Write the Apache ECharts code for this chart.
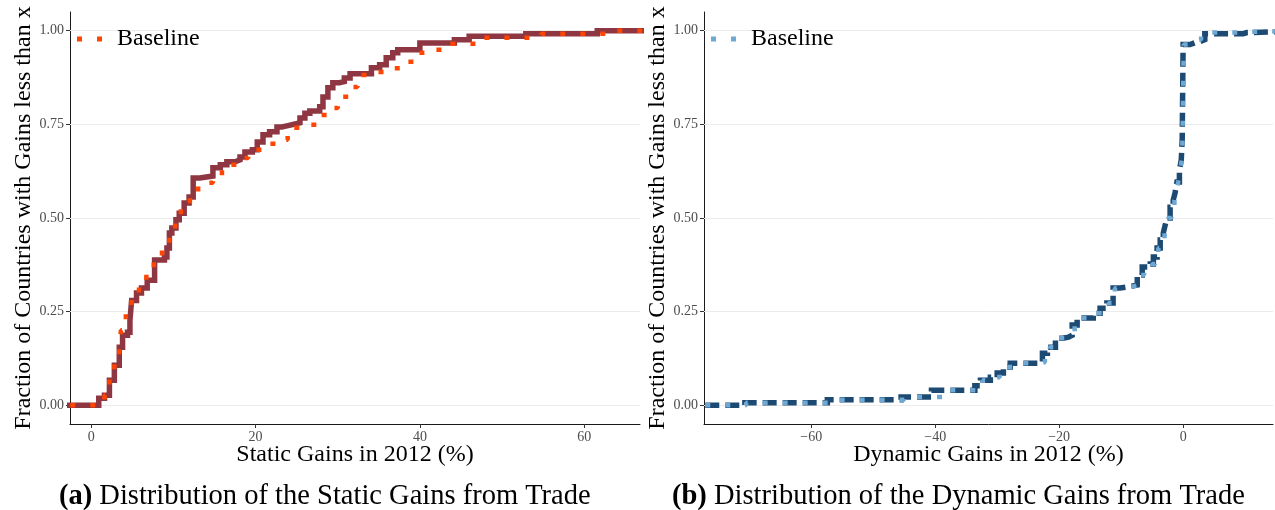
<!DOCTYPE html>
<html>
<head>
<meta charset="utf-8">
<script src="https://cdn.jsdelivr.net/npm/echarts@6/dist/echarts.min.js"></script>
<style>
html,body{margin:0;padding:0;background:#fff;}
#chart{width:1275px;height:510px;}
</style>
</head>
<body>
<div id="chart"></div>
<script>
// ---------- Data ----------
// Panel (a): static gains ECDF, main (solid) curve: step points (x = gain %, y = fraction)
const staticX = [-5, 0.9, 1.6, 2.2, 2.8, 3.4, 3.8, 4.4, 4.7, 4.9, 5.5, 6.1, 6.8, 7.7, 8.9, 9.2, 9.5, 9.8, 10.3, 10.7, 11.3, 11.9, 12.4, 13.2, 14.8, 15.7, 16.5, 17.5, 18.1, 18.7, 19.6, 20.2, 20.9, 21.7, 22.6, 23.2, 23.8, 24.8, 25.4, 26.0, 26.6, 27.8, 28.2, 28.8, 29.4, 30.2, 30.8, 31.5, 34.1, 35.1, 35.9, 36.7, 37.3, 40.0, 44.2, 46.0, 52.9, 61.6, 70];
const staticY = [0, 0.019, 0.027, 0.067, 0.107, 0.155, 0.187, 0.195, 0.227, 0.28, 0.30, 0.313, 0.334, 0.388, 0.396, 0.42, 0.46, 0.473, 0.495, 0.513, 0.54, 0.556, 0.607, 0.612, 0.634, 0.642, 0.65, 0.655, 0.663, 0.676, 0.682, 0.703, 0.722, 0.73, 0.743, 0.746, 0.751, 0.754, 0.767, 0.78, 0.786, 0.797, 0.823, 0.848, 0.861, 0.864, 0.874, 0.885, 0.901, 0.909, 0.928, 0.941, 0.949, 0.967, 0.976, 0.985, 0.992, 1.0, 1.0];
// Panel (a): Baseline (dotted) curve
const staticBaseX = [-5, 1.0, 1.6, 2.2, 2.8, 3.4, 3.6, 4.2, 4.9, 5.8, 6.7, 7.6, 8.6, 9.5, 10.2, 10.9, 12.0, 13.0, 14.8, 15.9, 17.7, 19.1, 20.8, 22.8, 23.9, 26.0, 27.4, 28.9, 30.0, 31.5, 32.4, 34.5, 36.7, 38.4, 39.7, 41.8, 43.6, 47.8, 54.8, 63.0, 70];
const staticBaseY = [0, 0.015, 0.027, 0.072, 0.112, 0.155, 0.20, 0.246, 0.286, 0.318, 0.356, 0.388, 0.422, 0.46, 0.497, 0.535, 0.567, 0.594, 0.61, 0.642, 0.66, 0.682, 0.698, 0.709, 0.741, 0.749, 0.775, 0.794, 0.824, 0.85, 0.882, 0.89, 0.90, 0.917, 0.941, 0.949, 0.965, 0.981, 0.992, 1.0, 1.0];

// Panel (b): dynamic gains ECDF, main (dashed) curve
const dynX = [-90, -70.7, -57.4, -45.5, -40.6, -33.6, -32.7, -31.1, -30.0, -29.0, -27.9, -23.5, -22.7, -21.9, -20.6, -19.4, -18.5, -17.9, -17.1, -14.5, -13.4, -12.3, -11.3, -10.2, -8.2, -7.4, -6.6, -5.3, -4.8, -4.2, -3.7, -3.2, -2.9, -2.6, -2.1, -1.6, -1.3, -1.0, -0.6, -0.3, -0.15, 0.0, 1.1, 1.9, 2.7, 3.5, 9.7, 10.3, 20];
const dynY = [0, 0.007, 0.015, 0.022, 0.04, 0.052, 0.067, 0.075, 0.086, 0.102, 0.112, 0.115, 0.139, 0.155, 0.179, 0.182, 0.187, 0.214, 0.233, 0.246, 0.259, 0.273, 0.313, 0.318, 0.321, 0.348, 0.369, 0.377, 0.396, 0.42, 0.441, 0.46, 0.481, 0.50, 0.529, 0.548, 0.567, 0.596, 0.628, 0.655, 0.709, 0.963, 0.968, 0.971, 0.976, 0.992, 0.995, 1.0, 1.0];
// Panel (b): Baseline (dotted) curve
const dynBaseX = [-90, -70.5, -57.0, -45.0, -37.8, -33.2, -32.3, -30.8, -29.6, -28.6, -27.5, -23.2, -22.3, -21.5, -20.2, -19.0, -18.2, -17.5, -16.8, -14.2, -13.1, -12.0, -11.0, -9.9, -7.9, -7.1, -6.3, -5.0, -4.5, -4.0, -3.5, -3.0, -2.7, -2.4, -1.9, -1.4, -1.1, -0.8, -0.5, -0.2, -0.1, 0.1, 1.3, 2.3, 2.9, 9.5, 10.3, 20];
const dynBaseY = [0, 0.007, 0.015, 0.022, 0.04, 0.052, 0.067, 0.075, 0.086, 0.102, 0.112, 0.115, 0.139, 0.155, 0.179, 0.182, 0.187, 0.214, 0.233, 0.246, 0.259, 0.273, 0.313, 0.318, 0.321, 0.348, 0.369, 0.377, 0.396, 0.42, 0.441, 0.46, 0.481, 0.50, 0.529, 0.548, 0.567, 0.596, 0.628, 0.655, 0.709, 0.963, 0.968, 0.976, 0.995, 0.997, 1.0, 1.0];

// Tick labels
const staticTicks = [0, 20, 40, 60];
const dynTicks = [-60, -40, -20, 0];
const yTicks = [0, 0.25, 0.5, 0.75, 1.0];

// Text
const yTitle = 'Fraction of Countries with Gains less than x';
const xTitleA = 'Static Gains in 2012 (%)';
const xTitleB = 'Dynamic Gains in 2012 (%)';
const captionA = ['(a)', 'Distribution of the Static Gains from Trade'];
const captionB = ['(b)', 'Distribution of the Dynamic Gains from Trade'];
const legendName = 'Baseline';

// ---------- Chart ----------
const zip = (xs, ys) => xs.map((x, i) => [x, ys[i]]);
const FONT = 'Liberation Serif';
const DOTS = 'path://M0,0h5v5h-5zM20,0h5v5h-5z';

function xAxisCfg(idx, min, max, ticks, name) {
  return {
    gridIndex: idx, type: 'value', min: min, max: max,
    name: name, nameLocation: 'middle', nameGap: 19, nameMoveOverlap: false,
    nameTextStyle: {fontFamily: FONT, fontSize: 24, color: '#000', verticalAlign: 'top'},
    axisLine: {show: true, onZero: false, lineStyle: {color: '#1a1a1a', width: 1}},
    axisTick: {show: true, customValues: ticks, length: 4, lineStyle: {color: '#333'}},
    axisLabel: {customValues: ticks, fontFamily: FONT, fontSize: 14, color: '#4D4D4D', margin: 6,
      formatter: v => String(v).replace('-', '\u2212')},
    splitLine: {show: false}
  };
}
function yAxisCfg(idx) {
  return {
    gridIndex: idx, type: 'value', min: -0.05, max: 1.05,
    name: yTitle, nameLocation: 'middle', nameGap: 33, nameRotate: 90,
    nameTextStyle: {fontFamily: FONT, fontSize: 24, color: '#000'},
    axisLine: {show: true, onZero: false, lineStyle: {color: '#1a1a1a', width: 1}},
    axisTick: {show: true, customValues: yTicks, length: 4, lineStyle: {color: '#333'}},
    axisLabel: {customValues: yTicks, fontFamily: FONT, fontSize: 14, color: '#4D4D4D', margin: 6,
      formatter: v => v.toFixed(2)},
    splitLine: {show: false}
  };
}
function gridLines() {
  return {
    silent: true, symbol: ['none', 'none'], z: 1,
    label: {show: false},
    lineStyle: {color: '#EBEBEB', width: 1, type: 'solid'},
    emphasis: {disabled: true},
    data: yTicks.map(v => ({yAxis: v}))
  };
}
function legendCfg(left, color) {
  return {
    left: left, top: 27, padding: 0, itemGap: 0, selectedMode: false,
    itemWidth: 25, itemHeight: 5,
    data: [{name: legendName, icon: DOTS, itemStyle: {color: color, borderWidth: 0}}],
    textStyle: {fontFamily: FONT, fontSize: 24, color: '#000', padding: [0, 0, 0, 10]}
  };
}
function captionCfg(left, parts) {
  return {
    text: '{b|' + parts[0] + '} ' + parts[1],
    left: left, top: 482, padding: 0,
    textStyle: {fontFamily: FONT, fontSize: 28.5, fontWeight: 'normal', color: '#000',
      rich: {b: {fontFamily: FONT, fontSize: 28.5, fontWeight: 'bold', color: '#000'}}}
  };
}

const chart = echarts.init(document.getElementById('chart'), null, {renderer: 'canvas'});
chart.setOption({
  backgroundColor: '#fff',
  animation: false,
  title: [captionCfg(59, captionA), captionCfg(672, captionB)],
  legend: [legendCfg(77, '#FF4500'), legendCfg(711, '#6FA8D2')],
  grid: [
    {left: 70, top: 12, width: 570, height: 412},
    {left: 704, top: 12, width: 569, height: 412}
  ],
  xAxis: [
    xAxisCfg(0, -2.6, 66.8, staticTicks, xTitleA),
    xAxisCfg(1, -77.3, 14.5, dynTicks, xTitleB)
  ],
  yAxis: [yAxisCfg(0), yAxisCfg(1)],
  series: [
    {
      name: 'Static', type: 'line', xAxisIndex: 0, yAxisIndex: 0, step: 'end',
      data: zip(staticX, staticY), symbol: 'none', z: 2,
      lineStyle: {color: '#8E3641', width: 5.5, cap: 'butt', join: 'miter'},
      markLine: gridLines()
    },
    {
      name: legendName, type: 'line', xAxisIndex: 0, yAxisIndex: 0, step: 'end',
      data: zip(staticBaseX, staticBaseY), symbol: 'none', z: 3, color: '#FF4500',
      lineStyle: {color: '#FF4500', width: 4.5, type: [5, 15], cap: 'butt'}
    },
    {
      name: 'Dynamic', type: 'line', xAxisIndex: 1, yAxisIndex: 1, step: 'end',
      data: zip(dynX, dynY), symbol: 'none', z: 2,
      lineStyle: {color: '#1C4A73', width: 5.5, type: [14, 6], cap: 'butt', join: 'miter'},
      markLine: gridLines()
    },
    {
      name: legendName, type: 'line', xAxisIndex: 1, yAxisIndex: 1, step: 'end',
      data: zip(dynBaseX, dynBaseY), symbol: 'none', z: 3, color: '#6FA8D2',
      lineStyle: {color: '#6FA8D2', width: 4.5, type: [5, 15], cap: 'butt'}
    }
  ]
});
</script>
</body>
</html>
